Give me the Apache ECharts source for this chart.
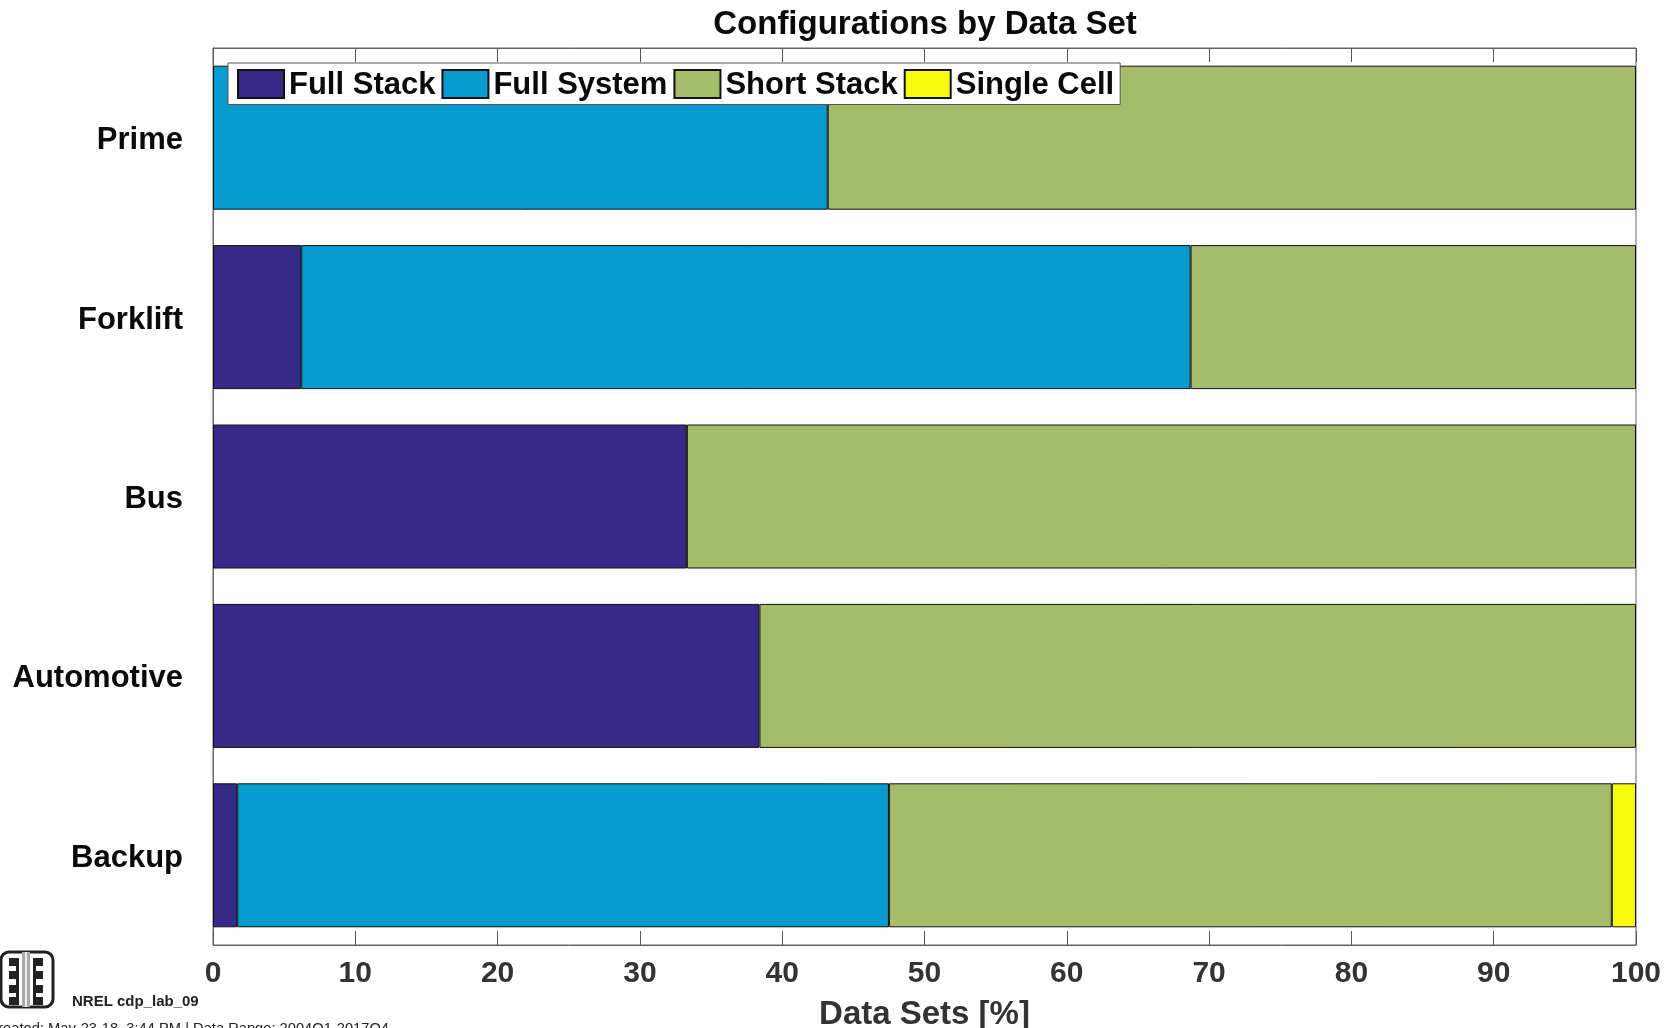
<!DOCTYPE html>
<html>
<head>
<meta charset="utf-8">
<title>Configurations by Data Set</title>
<script src="https://cdn.jsdelivr.net/npm/echarts@6/dist/echarts.min.js"></script>
<style>
    html, body { margin: 0; padding: 0; background: #fff; overflow: hidden; }
    #main { width: 1674px; height: 1028px; }
</style>
</head>
<body>
<div id="main"></div>
<script>
var categories = ['Prime', 'Forklift', 'Bus', 'Automotive', 'Backup'];
var fullStack = [null, 6.2, 33.3, 38.4, 1.7];
var fullSystem = [43.2, 62.5, null, null, 45.8];
var shortStack = [56.8, 31.3, 66.7, 61.6, 50.8];
var singleCell = [null, null, null, null, 1.7];
var xTicks = [0, 10, 20, 30, 40, 50, 60, 70, 80, 90, 100];

var fontName = '"Liberation Sans", Arial, sans-serif';
var myChart = echarts.init(document.getElementById('main'), null, { renderer: 'canvas' });

function makeSeries(name, values, color) {
    return {
        name: name,
        type: 'bar',
        stack: 'total',
        barWidth: 144,
        data: values,
        itemStyle: { color: color, borderColor: '#111', borderWidth: 1 }
    };
}

// NREL logo, left and right comb with teeth
var logo = [
    { type: 'rect', shape: { x: 1, y: 952, width: 52, height: 55, r: 8 }, style: { fill: '#fff', stroke: '#222', lineWidth: 3 } },
    { type: 'rect', shape: { x: 16, y: 958, width: 3, height: 47 }, style: { fill: '#222' } },
    { type: 'rect', shape: { x: 33, y: 958, width: 3, height: 47 }, style: { fill: '#222' } },
    { type: 'rect', shape: { x: 22, y: 952, width: 8, height: 55 }, style: { fill: '#aaa' } },
    { type: 'rect', shape: { x: 25, y: 952, width: 2, height: 55 }, style: { fill: '#eee' } }
];
[958, 971, 985, 997].forEach(function (y) {
    logo.push({ type: 'rect', shape: { x: 9, y: y, width: 8, height: 8 }, style: { fill: '#222' } });
    logo.push({ type: 'rect', shape: { x: 35, y: y, width: 8, height: 8 }, style: { fill: '#222' } });
});

var option = {
    animation: false,
    backgroundColor: '#fff',
    title: {
        text: 'Configurations by Data Set',
        left: 920,
        top: 3,
        textAlign: 'center',
        textStyle: { fontFamily: fontName, fontSize: 33, fontWeight: 'bold', color: '#0a0a0a' }
    },
    legend: {
        left: 228,
        top: 63,
        padding: [6, 6, 4, 9],
        itemGap: 6,
        itemWidth: 46,
        itemHeight: 28,
        icon: 'rect',
        backgroundColor: '#fff',
        borderColor: '#555',
        borderWidth: 1,
        borderRadius: 0,
        selectedMode: false,
        formatter: '{a|{name}}',
        textStyle: {
            rich: {
                a: { fontFamily: fontName, fontSize: 31, fontWeight: 'bold', color: '#0a0a0a', padding: [2, 0, 0, 0] }
            }
        }
    },
    grid: {
        left: 213,
        right: 38,
        top: 48,
        bottom: 83,
        show: true,
        borderColor: '#666',
        borderWidth: 1,
        outerBoundsMode: 'none',
        containLabel: false
    },
    xAxis: [{
        type: 'value',
        position: 'bottom',
        min: 0,
        max: 100,
        interval: 10,
        name: 'Data Sets [%]',
        nameLocation: 'middle',
        nameGap: 53,
        nameTextStyle: { fontFamily: fontName, fontSize: 33, fontWeight: 'bold', color: '#333' },
        axisLine: { show: true, lineStyle: { color: '#666' } },
        axisTick: { show: true, inside: true, length: 14, lineStyle: { color: '#555' } },
        axisLabel: {
            show: true,
            margin: 14,
            fontFamily: fontName,
            fontSize: 30,
            fontWeight: 'bold',
            color: '#333',
            showMinLabel: true,
            showMaxLabel: true,
            formatter: function (value) {
                return xTicks.indexOf(value) >= 0 ? String(value) : '';
            }
        },
        splitLine: { show: false }
    }, {
        type: 'value',
        position: 'top',
        min: 0,
        max: 100,
        interval: 10,
        axisLine: { show: true, lineStyle: { color: '#666' } },
        axisTick: { show: true, inside: true, length: 14, lineStyle: { color: '#555' } },
        axisLabel: { show: false },
        splitLine: { show: false }
    }],
    yAxis: {
        type: 'category',
        inverse: true,
        data: categories,
        axisLine: { show: true, lineStyle: { color: '#666' } },
        axisTick: { show: false },
        axisLabel: {
            margin: 30,
            verticalAlign: 'top',
            lineHeight: 6,
            fontFamily: fontName,
            fontSize: 31,
            fontWeight: 'bold',
            color: '#0a0a0a'
        }
    },
    series: [
        makeSeries('Full Stack', fullStack, '#352a87'),
        makeSeries('Full System', fullSystem, '#089bd0'),
        makeSeries('Short Stack', shortStack, '#a5bd6b'),
        makeSeries('Single Cell', singleCell, '#f9fb0e')
    ],
    graphic: logo.concat([{
        type: 'text',
        x: 72,
        y: 994,
        style: { text: 'NREL cdp_lab_09', fontFamily: fontName, fontSize: 15, fontWeight: 'bold', fill: '#222' }
    }, {
        type: 'text',
        x: 389,
        y: 1021,
        style: { text: 'Created: May-23-18, 3:44 PM | Data Range: 2004Q1-2017Q4', align: 'right', fontFamily: fontName, fontSize: 14.7, fill: '#222' }
    }])
};

myChart.setOption(option);

window.onresize = function () {
    myChart.resize();
};
</script>
</body>
</html>
